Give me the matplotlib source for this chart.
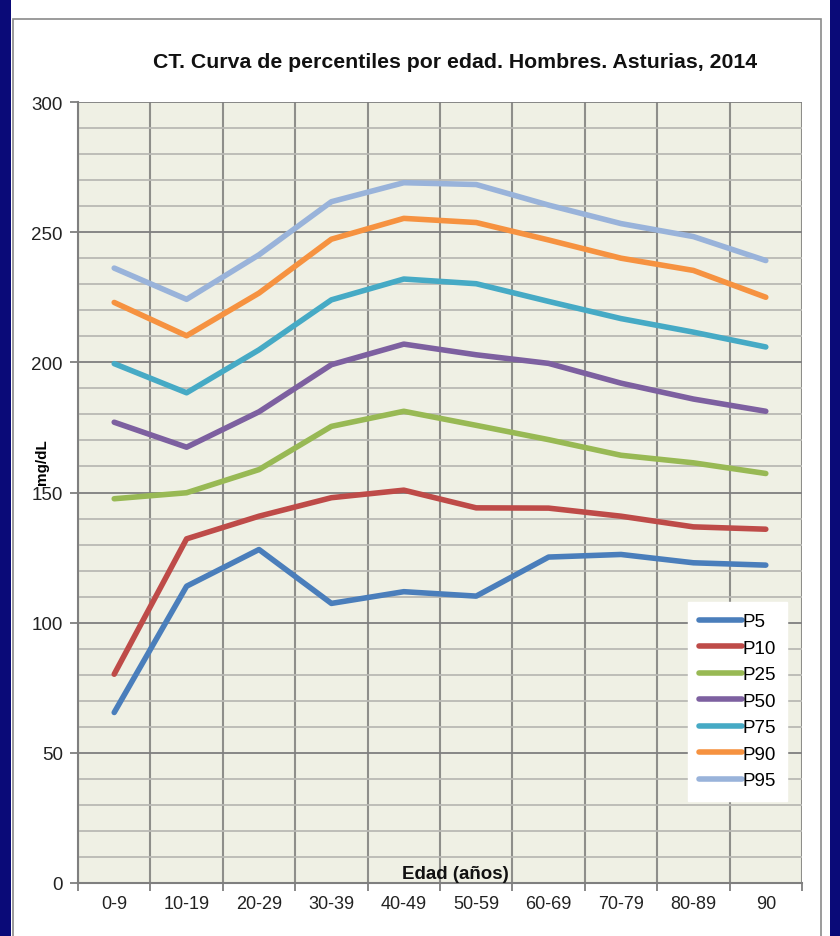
import matplotlib
matplotlib.use("Agg")
import matplotlib.pyplot as plt
from matplotlib.patches import Rectangle
import numpy as np

plt.rcParams['font.family'] = ['Liberation Sans', 'DejaVu Sans']

categories = ["0-9", "10-19", "20-29", "30-39", "40-49", "50-59", "60-69", "70-79", "80-89", "90"]
p5 = [65.5, 114, 128.1, 107.4, 111.9, 110.2, 125.2, 126.2, 123, 122.1]
p10 = [80.2, 132.2, 140.9, 148, 150.9, 144.1, 144, 140.9, 136.8, 135.9]
p25 = [147.6, 149.9, 158.8, 175.4, 181.2, 175.8, 170.3, 164.3, 161.4, 157.3]
p50 = [177, 167.4, 181, 199.1, 207, 202.9, 199.6, 192, 185.9, 181.2]
p75 = [199.5, 188.3, 204.8, 224, 232, 230.2, 223.4, 216.8, 211.6, 205.9]
p90 = [223, 210.2, 226.6, 247.3, 255.3, 253.7, 247, 240, 235.3, 225]
p95 = [236.2, 224.2, 241.3, 261.7, 269, 268.3, 260.4, 253.3, 248.3, 239.1]
series_names = ["P5", "P10", "P25", "P50", "P75", "P90", "P95"]
series_values = [p5, p10, p25, p50, p75, p90, p95]
colors = ["#4A7EBB", "#BE4B48", "#98B954", "#7D60A0", "#46AAC5", "#F69240", "#99B3DA"]

W, H = 840, 937
fig = plt.figure(figsize=(W / 100, H / 100), dpi=100, facecolor="white")

navy = "#0A0A78"
fig.patches.append(Rectangle((0, 0), 11 / W, 1, transform=fig.transFigure,
                             facecolor=navy, edgecolor="none", zorder=-6))
fig.patches.append(Rectangle((830 / W, 0), 10 / W, 1, transform=fig.transFigure,
                             facecolor=navy, edgecolor="none", zorder=-6))
# white panel with grey frame
fig.patches.append(Rectangle((13 / W, -0.01), (821 - 13) / W, (937 - 20) / H + 0.01,
                             transform=fig.transFigure, facecolor="white",
                             edgecolor="#8A8A8A", linewidth=1.2, zorder=-5))

left, right, top, bottom = 78, 802, 103, 884
ax = fig.add_axes([left / W, 1 - bottom / H, (right - left) / W, (bottom - top) / H])
ax.set_zorder(2)
ax.set_facecolor("#EFF0E4")

x = np.arange(len(categories))
for name, vals, c in zip(series_names, series_values, colors):
    ax.plot(x, vals, color=c, linewidth=4, label=name, solid_capstyle="round", zorder=3)

ax.set_xlim(-0.5, len(categories) - 0.5)
ax.set_ylim(0, 300)
ax.set_yticks(np.arange(0, 301, 50))
ax.set_yticks(np.arange(0, 301, 10), minor=True)
ax.set_xticks(x)
ax.set_xticklabels(categories)
ax.set_xticks(np.arange(-0.5, len(categories), 1.0), minor=True)

ax.grid(which="minor", axis="y", color="#B9B9B4", linewidth=1.3, zorder=1)
ax.grid(which="major", axis="y", color="#7F7F7F", linewidth=1.3, zorder=1)
ax.grid(which="minor", axis="x", color="#8E8E8A", linewidth=1.5, zorder=1)
ax.set_axisbelow(True)

ax.tick_params(axis="x", which="major", length=0, pad=9, labelsize=13, labelcolor="#222222")
ax.tick_params(axis="x", which="minor", length=6, color="#7F7F7F", width=1.3)
ax.tick_params(axis="y", which="major", length=6, color="#7F7F7F", width=1.3, pad=5,
               labelsize=13.5, labelcolor="#222222")
ax.tick_params(axis="y", which="minor", length=0)

for side in ["top", "right"]:
    ax.spines[side].set_visible(False)
for side in ["left", "bottom"]:
    ax.spines[side].set_color("#7F7F7F")
    ax.spines[side].set_linewidth(1.5)

ax.set_ylabel("mg/dL", fontsize=11, fontweight="bold")
ax.yaxis.set_label_coords(-0.040, 0.54)
ax.text(0.521, 0.0125, "Edad (años)", transform=ax.transAxes, ha="center", va="center",
        fontsize=13.5, fontweight="bold", color="#111111", zorder=4)

fig.text(455 / W, 1 - 63 / H, "CT. Curva de percentiles por edad. Hombres. Asturias, 2014",
         ha="center", va="center", fontsize=15.3, fontweight="bold", color="#111111")

leg = ax.legend(loc="upper left", bbox_to_anchor=((688 - left) / (right - left), (bottom - 603) / (bottom - top)),
                frameon=True, fancybox=False, framealpha=1, edgecolor="white", facecolor="white",
                fontsize=13.5, handlelength=2.3, handletextpad=0.0, labelspacing=0.5,
                borderpad=0.6, borderaxespad=0)
leg.set_zorder(5)

fig.savefig("out.png", dpi=100, facecolor=fig.get_facecolor())
